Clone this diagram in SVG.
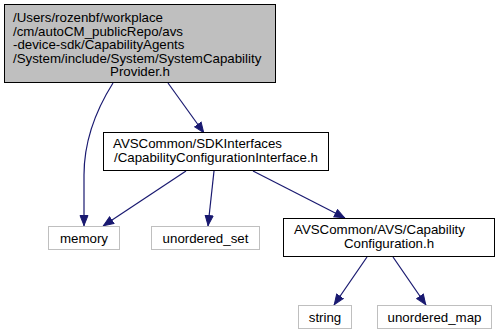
<svg xmlns="http://www.w3.org/2000/svg" width="498" height="336" viewBox="0 0 498 336">
  <defs>
    <marker id="arrow" viewBox="0 0 11 10" refX="11" refY="5" markerWidth="11" markerHeight="10" markerUnits="userSpaceOnUse" orient="auto">
      <path d="M0.5,1 L10.5,5 L0.5,9 Z" fill="#191970" stroke="#191970"/>
    </marker>
    <style>
      text { font-family: "Liberation Sans", Arial, Helvetica, sans-serif; font-size: 13.3px; fill: #000; }
      .main rect { fill: #bfbfbf; stroke: #000; stroke-width: 1; }
      .hdr rect { fill: #fff; stroke: #000; stroke-width: 1; }
      .lib rect { fill: #fff; stroke: #bfbfbf; stroke-width: 1; }
      .mid { text-anchor: middle; }
      #edges path { fill: none; stroke: #191970; stroke-width: 1.2; marker-end: url(#arrow); }
    </style>
  </defs>

  <g id="edges">
    <path d="M113,83 C96,110 84,140 84,175 L84,226"/>
    <path d="M168,83 L204,133"/>
    <path d="M186,171 L103,226"/>
    <path d="M214,171 L208,226"/>
    <path d="M253,171 L345,218"/>
    <path d="M367,257 L334,305"/>
    <path d="M393,257 L426,305"/>
  </g>

  <g id="node-main" class="main">
    <rect x="4.5" y="4.5" width="271" height="78"/>
    <text x="13" y="22">/Users/rozenbf/workplace</text>
    <text x="13" y="35.5">/cm/autoCM_publicRepo/avs</text>
    <text x="13" y="49">-device-sdk/CapabilityAgents</text>
    <text x="13" y="62.5">/System/include/System/SystemCapability</text>
    <text x="140" y="76" class="mid">Provider.h</text>
  </g>

  <g id="node-capconfig-iface" class="hdr">
    <rect x="103.5" y="132.5" width="225" height="38"/>
    <text x="113" y="148">AVSCommon/SDKInterfaces</text>
    <text x="216" y="162" class="mid">/CapabilityConfigurationInterface.h</text>
  </g>

  <g id="node-memory" class="lib">
    <rect x="48.5" y="226.5" width="71" height="23"/>
    <text x="84" y="242.5" class="mid">memory</text>
  </g>

  <g id="node-unordered-set" class="lib">
    <rect x="151.5" y="226.5" width="108" height="23"/>
    <text x="205.5" y="242.5" class="mid">unordered_set</text>
  </g>

  <g id="node-capconfig" class="hdr">
    <rect x="283.5" y="218.5" width="211" height="38"/>
    <text x="294" y="234">AVSCommon/AVS/Capability</text>
    <text x="389" y="248" class="mid">Configuration.h</text>
  </g>

  <g id="node-string" class="lib">
    <rect x="298.5" y="305.5" width="53" height="23"/>
    <text x="325" y="321.5" class="mid">string</text>
  </g>

  <g id="node-unordered-map" class="lib">
    <rect x="377.5" y="305.5" width="114" height="23"/>
    <text x="434.5" y="321.5" class="mid">unordered_map</text>
  </g>
</svg>
